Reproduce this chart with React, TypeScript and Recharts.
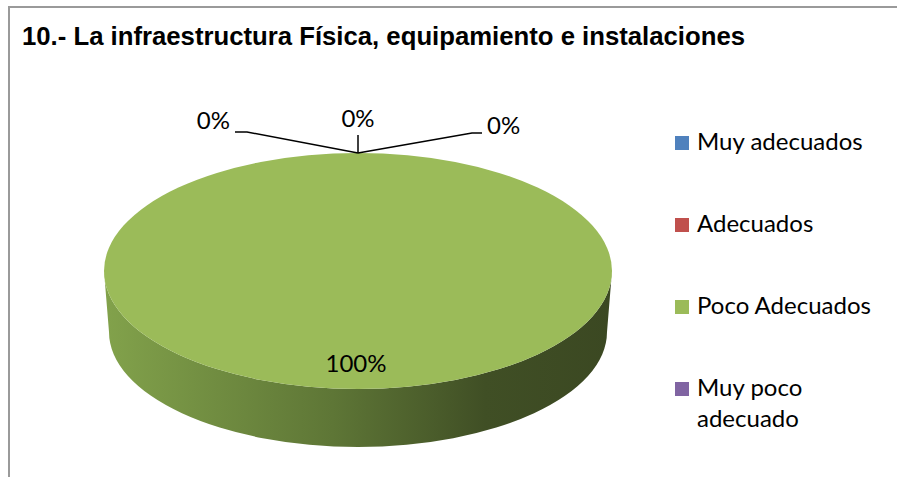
import React from 'react';
import { PieChart, Pie, Cell, Legend } from 'recharts';

const title = '10.- La infraestructura Física, equipamiento e instalaciones';
const categories = ['Muy adecuados', 'Adecuados', 'Poco Adecuados', 'Muy poco adecuado'];
const values = [0, 0, 100, 0];
const colors = ['#4F81BD', '#C0504D', '#9BBB59', '#8064A2'];

const data = categories.map((name, i) => ({ name, value: values[i] }));

const TILT = 118 / 254;
const DEPTH = 61;
const FONT = 'Lato, "Open Sans", sans-serif';

const Slice3D = (props: any) => {
  const { cx, cy, outerRadius, startAngle, endAngle, fill } = props;
  const span = Math.abs(endAngle - startAngle);
  if (span < 0.01) return <g />;
  const rx = outerRadius;
  const ry = outerRadius * TILT;
  const rxb = rx - 5;
  const ryb = ry - 3;
  const full = span >= 359.99;
  const gid = 'side-grad';
  const side = `M ${cx - rx} ${cy} L ${cx - rxb} ${cy + DEPTH} A ${rxb} ${ryb} 0 0 0 ${cx + rxb} ${cy + DEPTH} L ${cx + rx} ${cy} A ${rx} ${ry} 0 0 1 ${cx - rx} ${cy} Z`;
  let top: React.ReactNode;
  if (full) {
    top = <ellipse cx={cx} cy={cy} rx={rx} ry={ry} fill={fill} />;
  } else {
    const a1 = (-startAngle * Math.PI) / 180;
    const a2 = (-endAngle * Math.PI) / 180;
    const x1 = cx + rx * Math.cos(a1), y1 = cy + ry * Math.sin(a1);
    const x2 = cx + rx * Math.cos(a2), y2 = cy + ry * Math.sin(a2);
    const large = span > 180 ? 1 : 0;
    const sweep = endAngle < startAngle ? 1 : 0;
    top = <path d={`M ${cx} ${cy} L ${x1} ${y1} A ${rx} ${ry} 0 ${large} ${sweep} ${x2} ${y2} Z`} fill={fill} />;
  }
  return (
    <g>
      <defs>
        <linearGradient id={gid} x1="0" y1="0" x2="1" y2="0">
          <stop offset="0%" stopColor="#82a24b" />
          <stop offset="45%" stopColor="#5e7636" />
          <stop offset="75%" stopColor="#404f25" />
          <stop offset="100%" stopColor="#3b4822" />
        </linearGradient>
      </defs>
      {full && <path d={side} fill={`url(#${gid})`} />}
      {top}
    </g>
  );
};

const zeroSlots: Record<number, number> = { 0: 0, 1: 1, 3: 2 };

const renderLabel = (props: any) => {
  const { cx, cy, outerRadius, index, percent, midAngle } = props;
  const ry = outerRadius * TILT;
  const txt = `${Math.round((percent || 0) * 100)}%`;
  const tStyle = { fontFamily: FONT, fontSize: 24 };
  if (values[index] > 0) {
    const rad = (-midAngle * Math.PI) / 180;
    const x = cx + Math.cos(rad) * outerRadius * 0.86 - 2;
    const y = cy + Math.sin(rad) * ry * 0.86;
    return (
      <text x={x} y={y} textAnchor="middle" fill="#000" style={tStyle}>
        {txt}
      </text>
    );
  }
  const topY = cy - ry;
  const slot = zeroSlots[index];
  if (slot === 0) {
    return (
      <g>
        <polyline points={`${cx},${topY} ${cx - 111},${topY - 21} ${cx - 123},${topY - 21}`} fill="none" stroke="#000" strokeWidth={1.5} />
        <text x={cx - 128} y={topY - 24} textAnchor="end" fill="#000" style={tStyle}>{txt}</text>
      </g>
    );
  }
  if (slot === 1) {
    return (
      <g>
        <line x1={cx} y1={topY} x2={cx} y2={topY - 18} stroke="#000" strokeWidth={1.5} />
        <text x={cx} y={topY - 26} textAnchor="middle" fill="#000" style={tStyle}>{txt}</text>
      </g>
    );
  }
  return (
    <g>
      <polyline points={`${cx},${topY} ${cx + 114},${topY - 20} ${cx + 124},${topY - 20}`} fill="none" stroke="#000" strokeWidth={1.5} />
      <text x={cx + 129} y={topY - 19} textAnchor="start" fill="#000" style={tStyle}>{txt}</text>
    </g>
  );
};

const renderLegend = (props: any) => {
  const payload = [...(props.payload || [])].sort(
    (a: any, b: any) => categories.indexOf(a.value) - categories.indexOf(b.value)
  );
  return (
    <div style={{ fontFamily: FONT, fontSize: 24, lineHeight: '31px', color: '#000' }}>
      {payload.map((entry: any, i: number) => {
        const ci = categories.indexOf(entry.value);
        return (
          <div
            key={entry.value}
            style={{ position: 'relative', paddingLeft: 22, marginBottom: i < payload.length - 1 ? 51 : 0, textAlign: 'left' }}
          >
            <span
              style={{ position: 'absolute', left: 0, top: 11, width: 14, height: 14, background: ci >= 0 ? colors[ci] : entry.color }}
            />
            {entry.value}
          </div>
        );
      })}
    </div>
  );
};

export default function App() {
  return (
    <div style={{ position: 'absolute', left: 0, top: 0, width: 897, height: 477, background: '#fff', overflow: 'hidden' }}>
      <PieChart width={897} height={477} margin={{ top: 0, right: 0, bottom: 0, left: 0 }}>
        <Pie
          data={data}
          dataKey="value"
          nameKey="name"
          cx={358}
          cy={271}
          outerRadius={254}
          startAngle={90}
          endAngle={-270}
          stroke="none"
          isAnimationActive={false}
          shape={Slice3D}
          activeShape={Slice3D}
          inactiveShape={Slice3D}
          label={renderLabel}
          labelLine={false}
        >
          {data.map((d, i) => (
            <Cell key={d.name} fill={colors[i]} />
          ))}
        </Pie>
        <Legend
          layout="vertical"
          align="right"
          verticalAlign="top"
          content={renderLegend}
          wrapperStyle={{ position: 'absolute', left: 675, top: 125, width: 215 }}
        />
      </PieChart>
      <svg width={897} height={477} style={{ position: 'absolute', left: 0, top: 0, pointerEvents: 'none' }}>
        <path d="M 9 477 L 9 7 L 897 7" fill="none" stroke="#9a9a9a" strokeWidth={2} />
        <text
          x={22}
          y={45}
          textLength={723}
          lengthAdjust="spacingAndGlyphs"
          style={{ fontFamily: '"Liberation Sans", Arial, sans-serif', fontWeight: 'bold', fontSize: 26 }}
          fill="#000"
        >
          {title}
        </text>
      </svg>
    </div>
  );
}
